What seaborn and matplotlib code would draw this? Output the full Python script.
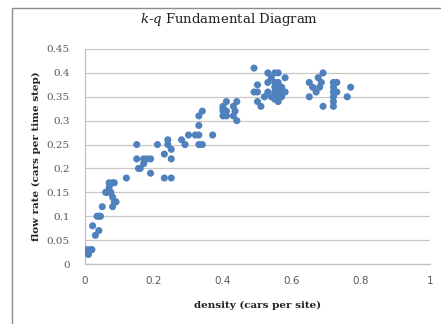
import matplotlib
matplotlib.use("Agg")
import matplotlib.pyplot as plt
import seaborn as sns
import pandas as pd
from matplotlib.patches import Rectangle

density = [0.005, 0.01, 0.015, 0.02, 0.008,
           0.022, 0.03, 0.04,
           0.035, 0.04, 0.045, 0.05,
           0.06, 0.065, 0.07, 0.07, 0.08, 0.085, 0.075,
           0.08, 0.08, 0.09, 0.085,
           0.12,
           0.15, 0.15, 0.155, 0.17, 0.17, 0.18, 0.19, 0.16, 0.19,
           0.21, 0.23, 0.23, 0.25, 0.24, 0.24, 0.25, 0.25,
           0.28, 0.29, 0.30, 0.32, 0.33, 0.33, 0.34, 0.33, 0.33, 0.34,
           0.37,
           0.40, 0.41, 0.40, 0.41, 0.40, 0.41, 0.40,
           0.43, 0.44, 0.435, 0.43, 0.44,
           0.49, 0.49, 0.50, 0.50, 0.51, 0.52, 0.50,
           0.53, 0.54, 0.55, 0.56, 0.58,
           0.53, 0.55, 0.56, 0.57, 0.55,
           0.55, 0.56, 0.57, 0.58, 0.54,
           0.55, 0.56, 0.57, 0.56, 0.53,
           0.65, 0.66, 0.676, 0.69, 0.685, 0.68,
           0.65, 0.67, 0.69,
           0.72, 0.73, 0.72, 0.72, 0.72, 0.72, 0.72, 0.73,
           0.76, 0.77]
flow = [0.03, 0.02, 0.03, 0.03, 0.025,
        0.08, 0.06, 0.07,
        0.10, 0.10, 0.10, 0.12,
        0.15, 0.15, 0.16, 0.17, 0.17, 0.17, 0.15,
        0.14, 0.12, 0.13, 0.13,
        0.18,
        0.25, 0.22, 0.20, 0.21, 0.22, 0.22, 0.22, 0.20, 0.19,
        0.25, 0.23, 0.18, 0.18, 0.26, 0.25, 0.24, 0.22,
        0.26, 0.25, 0.27, 0.27, 0.27, 0.25, 0.25, 0.29, 0.31, 0.32,
        0.27,
        0.33, 0.34, 0.32, 0.32, 0.31, 0.31, 0.325,
        0.33, 0.34, 0.32, 0.31, 0.30,
        0.41, 0.36, 0.375, 0.34, 0.33, 0.35, 0.36,
        0.40, 0.39, 0.40, 0.40, 0.39,
        0.38, 0.38, 0.38, 0.37, 0.37,
        0.36, 0.36, 0.36, 0.36, 0.35,
        0.345, 0.34, 0.35, 0.35, 0.36,
        0.38, 0.37, 0.39, 0.40, 0.38, 0.37,
        0.35, 0.36, 0.33,
        0.38, 0.38, 0.37, 0.36, 0.35, 0.34, 0.33, 0.36,
        0.35, 0.37]

x_ticks = [0, 0.2, 0.4, 0.6, 0.8, 1]
x_tick_labels = ["0", "0.2", "0.4", "0.6", "0.8", "1"]
y_ticks = [0, 0.05, 0.1, 0.15, 0.2, 0.25, 0.3, 0.35, 0.4, 0.45]
y_tick_labels = ["0", "0.05", "0.1", "0.15", "0.2", "0.25", "0.3", "0.35", "0.4", "0.45"]

df = pd.DataFrame({"density": density, "flow": flow})

sns.set_theme(style="white")
plt.rcParams["mathtext.fontset"] = "dejavuserif"

fig = plt.figure(figsize=(4.41, 3.24), dpi=100)
ax = fig.add_axes([85/441, 1-264/324, (430-85)/441, (264-49)/324])

sns.scatterplot(data=df, x="density", y="flow", ax=ax, color="#4f81bd",
                s=26, edgecolor="none", linewidth=0, zorder=3)

ax.set_xlim(0, 1)
ax.set_ylim(0, 0.45)
ax.set_xticks(x_ticks)
ax.set_xticklabels(x_tick_labels, fontsize=7.5, color="#595959",
                   family="DejaVu Sans")
ax.set_yticks(y_ticks)
ax.set_yticklabels(y_tick_labels, fontsize=7.5, color="#595959",
                   family="DejaVu Serif")
ax.tick_params(axis="both", length=0, pad=9)
ax.tick_params(axis="y", pad=11)

ax.grid(axis="y", color="#c8c8c8", linewidth=0.9)
ax.grid(axis="x", visible=False)
for side in ["top", "right"]:
    ax.spines[side].set_visible(False)
for side in ["left", "bottom"]:
    ax.spines[side].set_color("#c0c0c0")
    ax.spines[side].set_linewidth(0.9)

ax.set_xlabel("density (cars per site)", family="DejaVu Serif",
              fontweight="bold", fontsize=7.5, color="#222222", labelpad=10)
ax.set_ylabel("flow rate (cars per time step)", family="DejaVu Serif",
              fontweight="bold", fontsize=7.5, color="#222222", labelpad=4)

fig.text(229/441, 1-20/324, r"$k$-$q$ Fundamental Diagram", ha="center",
         va="center", family="DejaVu Serif", fontsize=9.5, color="#222222")

fig.patches.append(Rectangle((12/441, -0.1), 1.2, 1-8/324+0.1,
                             transform=fig.transFigure, fill=False,
                             edgecolor="#8c8c8c", linewidth=1.0))

fig.savefig("out.png", dpi=100)
